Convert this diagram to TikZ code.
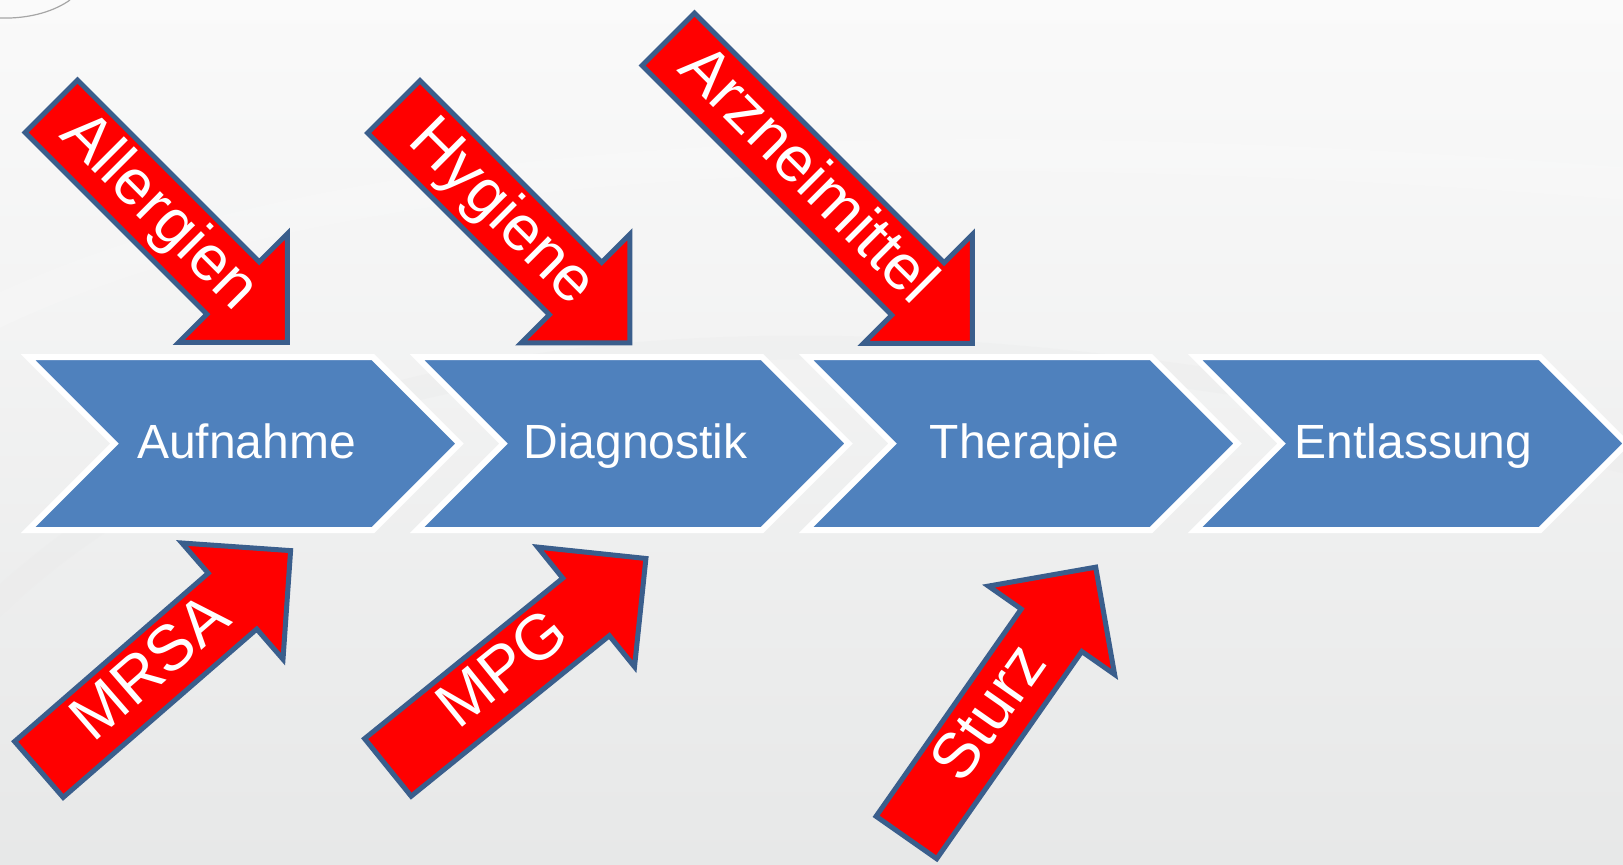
\documentclass[tikz,border=0pt]{standalone}
\usepackage{fontspec}
\setmainfont{Liberation Sans}
\definecolor{stepblue}{HTML}{4F81BD}
\definecolor{riskred}{HTML}{FF0000}
\definecolor{riskedge}{HTML}{3A5E8C}
\definecolor{bgtop}{HTML}{FAFAFA}
\definecolor{bgbottom}{HTML}{E7E8E8}

\begin{document}
\begin{tikzpicture}[x=0.5pt,y=-0.5pt,
  stepshape/.style={fill=stepblue,draw=white,line width=3pt,line join=miter},
  steplabel/.style={text=white,font=\fontsize{24}{28}\selectfont,anchor=base,inner sep=0pt},
  riskshape/.style={fill=riskred,draw=riskedge,line width=2.5pt,line join=miter},
  risklabel/.style={text=white,font=\fontsize{32}{38}\selectfont,transform shape,
    text height=23pt,text depth=6.7pt,inner sep=0pt}
]
  \useasboundingbox (0,0) rectangle (1623,864);
  \clip (0,0) rectangle (1623,864);
  \fill[top color=bgtop,bottom color=bgbottom] (0,0) rectangle (1623,864);
  \draw[white,line width=16pt,opacity=0.18] (-40,330) .. controls (300,150) and (900,120) .. (1700,190);
  \draw[black!8,line width=12pt,opacity=0.35] (-40,640) .. controls (250,330) and (800,250) .. (1700,480);
  \draw[black!35,line width=0.6pt] (0,18) .. controls (32,19) and (56,10) .. (70,0);

  \draw[stepshape] (28,357) -- ++(345,0) -- ++(86.5,86.5) -- ++(-86.5,86.5) -- ++(-345,0) -- ++(86.5,-86.5) -- cycle;
  \draw[stepshape] (417,357) -- ++(345,0) -- ++(86.5,86.5) -- ++(-86.5,86.5) -- ++(-345,0) -- ++(86.5,-86.5) -- cycle;
  \draw[stepshape] (806,357) -- ++(345,0) -- ++(86.5,86.5) -- ++(-86.5,86.5) -- ++(-345,0) -- ++(86.5,-86.5) -- cycle;
  \draw[stepshape] (1195,357) -- ++(345,0) -- ++(86.5,86.5) -- ++(-86.5,86.5) -- ++(-345,0) -- ++(86.5,-86.5) -- cycle;
  \node[steplabel] (aufnahme) at (246.5,458) {Aufnahme};
  \node[steplabel] (diagnostik) at (635.5,458) {Diagnostik};
  \node[steplabel] (therapie) at (1024.5,458) {Therapie};
  \node[steplabel] (entlassung) at (1413.5,458) {Entlassung};

  \begin{scope}[shift={(51.3,106.3)},rotate=-45]
    \draw[riskshape] (0,37) -- (257,37) -- (257,77) -- (334,0) -- (257,-77) -- (257,-37) -- (0,-37) -- cycle;
    \node[risklabel] (allergien) at (151,0) {Allergien};
  \end{scope}
  \begin{scope}[shift={(393.8,106.8)},rotate=-45]
    \draw[riskshape] (0,37) -- (257,37) -- (257,77) -- (334,0) -- (257,-77) -- (257,-37) -- (0,-37) -- cycle;
    \node[risklabel] (hygiene) at (151,0) {Hygiene};
  \end{scope}
  \begin{scope}[shift={(668.3,39.3)},rotate=-45]
    \draw[riskshape] (0,37) -- (353,37) -- (353,77) -- (430,0) -- (353,-77) -- (353,-37) -- (0,-37) -- cycle;
    \node[risklabel] (arznei) at (195,0) {Arzneimittel};
  \end{scope}
  \begin{scope}[shift={(38.9,769.4)},rotate=41]
    \draw[riskshape] (0,37) -- (256.5,37) -- (256.5,77) -- (333.5,0) -- (256.5,-77) -- (256.5,-37) -- (0,-37) -- cycle;
    \node[risklabel] (mrsa) at (151,0) {MRSA};
  \end{scope}
  \begin{scope}[shift={(387.9,767.4)},rotate=39]
    \draw[riskshape] (0,37) -- (255,37) -- (255,77) -- (332,0) -- (255,-77) -- (255,-37) -- (0,-37) -- cycle;
    \node[risklabel] (mpg) at (151,0) {MPG};
  \end{scope}
  \begin{scope}[shift={(906.4,837.5)},rotate=55]
    \draw[riskshape] (0,37) -- (253,37) -- (253,77) -- (330,0) -- (253,-77) -- (253,-37) -- (0,-37) -- cycle;
    \node[risklabel] (sturz) at (150,0) {Sturz};
  \end{scope}
\end{tikzpicture}
\end{document}
